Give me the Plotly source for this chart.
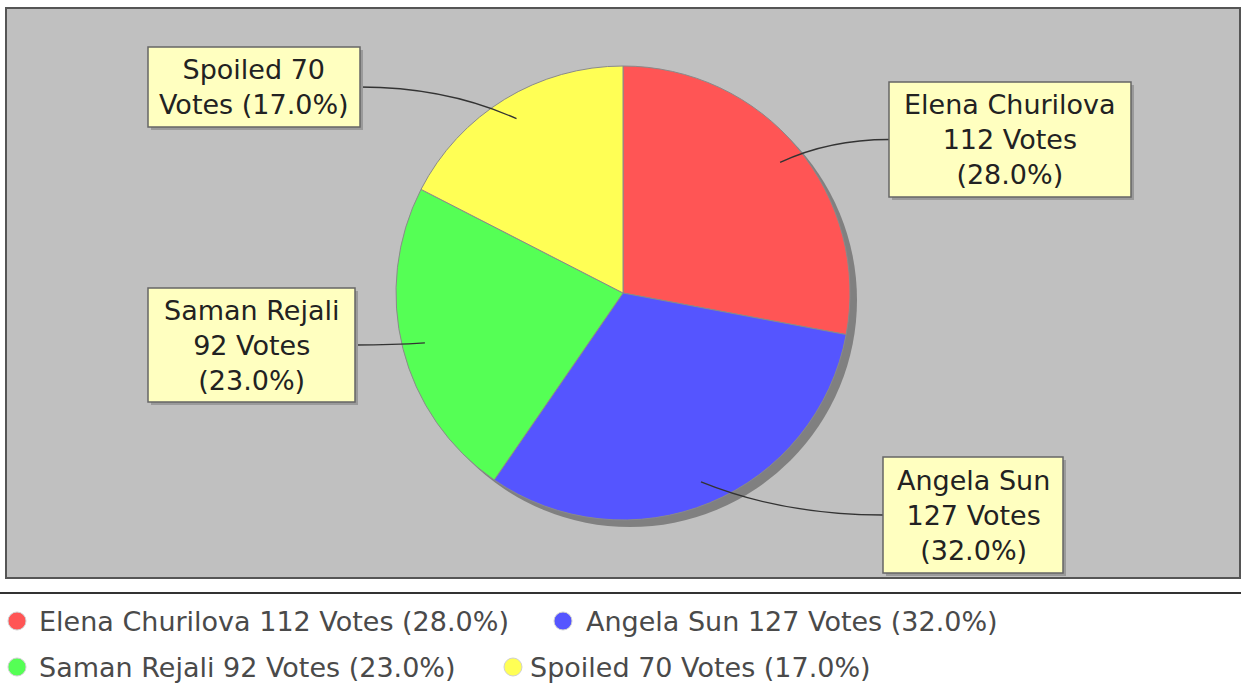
import numpy as np
import plotly.graph_objects as go

# ── Dados ────────────────────────────────────────────────────────────────────
names = ["Elena Churilova", "Angela Sun", "Saman Rejali", "Spoiled"]
votes = [112, 127, 92, 70]
pcts = ["28.0%", "32.0%", "23.0%", "17.0%"]
colors = ["#ff5555", "#5555ff", "#55ff55", "#ffff55"]

# rótulos das caixas (quebra de linha como no original)
box_text = [
    "Elena Churilova<br>112 Votes<br>(28.0%)",
    "Angela Sun<br>127 Votes<br>(32.0%)",
    "Saman Rejali<br>92 Votes<br>(23.0%)",
    "Spoiled 70<br>Votes (17.0%)",
]

W, H = 1241, 689
CX, CY, R = 623, 293, 227
SHADOW = 7
FONT = "DejaVu Sans, Verdana, sans-serif"
FS = 27

# caixas dos rótulos: (x0, y0, x1, y1) em pixels, e lado da âncora do conector
boxes = [
    (889, 82, 1131, 197, "left"),
    (883, 457, 1063, 573, "left"),
    (148, 288, 355, 402, "right"),
    (148, 47, 360, 127, "right"),
]


def dom(cx, cy, r):
    return dict(x=[(cx - r) / W, (cx + r) / W],
                y=[1 - (cy + r) / H, 1 - (cy - r) / H])


fig = go.Figure()

# sombra da pizza
fig.add_trace(go.Pie(
    values=[1], marker=dict(colors=["#808080"], line=dict(width=0)),
    domain=dom(CX + SHADOW, CY + SHADOW, R), textinfo="none",
    hoverinfo="skip", showlegend=False, sort=False,
))
fig.add_trace(go.Pie(
    labels=names, values=votes, sort=False, direction="clockwise",
    rotation=0, marker=dict(colors=colors, line=dict(color="#8a8a8a", width=1)),
    domain=dom(CX, CY, R), textinfo="none", showlegend=False,
))

# legenda desenhada à mão (marcadores circulares + texto)
legend_mx = [17, 563, 17, 513]
legend_tx = [37, 584, 37, 528]
legend_y = [621, 621, 667, 667]
fig.add_trace(go.Scatter(
    x=legend_mx, y=legend_y, mode="markers",
    marker=dict(size=18, color=colors, line=dict(color="#d0d0d0", width=1)),
    hoverinfo="skip", showlegend=False,
))
for i, n in enumerate(names):
    fig.add_annotation(
        x=legend_tx[i], y=legend_y[i], xref="x", yref="y",
        text=f"{n} {votes[i]} Votes ({pcts[i]})", showarrow=False,
        xanchor="left", yanchor="middle",
        font=dict(family=FONT, size=FS, color="#4a4a4a"),
    )

shapes = [
    dict(type="rect", xref="x", yref="y", x0=6, x1=1240, y0=8, y1=578,
         fillcolor="#c0c0c0", line=dict(color="#555555", width=2),
         layer="below"),
    dict(type="line", xref="x", yref="y", x0=0, x1=W, y0=593, y1=593,
         line=dict(color="#333333", width=2), layer="below"),
]

# conectores: da caixa até 0,9·R no ângulo médio da fatia
total = sum(votes)
cum = np.cumsum([0] + votes[:-1])
for i, v in enumerate(votes):
    frac = (cum[i] + v / 2) / total
    ang = np.pi / 2 - 2 * np.pi * frac
    ex, ey = CX + 0.9 * R * np.cos(ang), CY - 0.9 * R * np.sin(ang)
    x0, y0, x1, y1, side = boxes[i]
    ax = x0 if side == "left" else x1
    ay = (y0 + y1) / 2
    qx = ax + (ex - ax) * 0.55
    shapes.append(dict(
        type="path", xref="x", yref="y",
        path=f"M {ax},{ay} Q {qx},{ay} {ex:.1f},{ey:.1f}",
        line=dict(color="#333333", width=1.3), layer="above",
    ))
    # sombra + caixa
    shapes.append(dict(type="rect", xref="x", yref="y",
                       x0=x0 + 3, x1=x1 + 3, y0=y0 + 3, y1=y1 + 3,
                       fillcolor="#9a9a9a", line_width=0, layer="above"))
    shapes.append(dict(type="rect", xref="x", yref="y",
                       x0=x0, x1=x1, y0=y0, y1=y1,
                       fillcolor="#ffffc0", line=dict(color="#666666", width=1.5),
                       layer="above"))
    fig.add_annotation(
        x=(x0 + x1) / 2, y=(y0 + y1) / 2, xref="x", yref="y",
        text=box_text[i], showarrow=False, xanchor="center", yanchor="middle",
        font=dict(family=FONT, size=FS, color="#222222"),
    )

fig.update_layout(
    width=W, height=H, margin=dict(l=0, r=0, t=0, b=0),
    paper_bgcolor="#ffffff", plot_bgcolor="rgba(0,0,0,0)",
    shapes=shapes, showlegend=False,
    xaxis=dict(range=[0, W], visible=False, fixedrange=True, domain=[0, 1]),
    yaxis=dict(range=[H, 0], visible=False, fixedrange=True, domain=[0, 1]),
)

fig.write_html(
    "out.html",
    config={"displayModeBar": False},
    post_script="document.body.style.margin='0';"
                "document.body.style.overflow='hidden';",
)
